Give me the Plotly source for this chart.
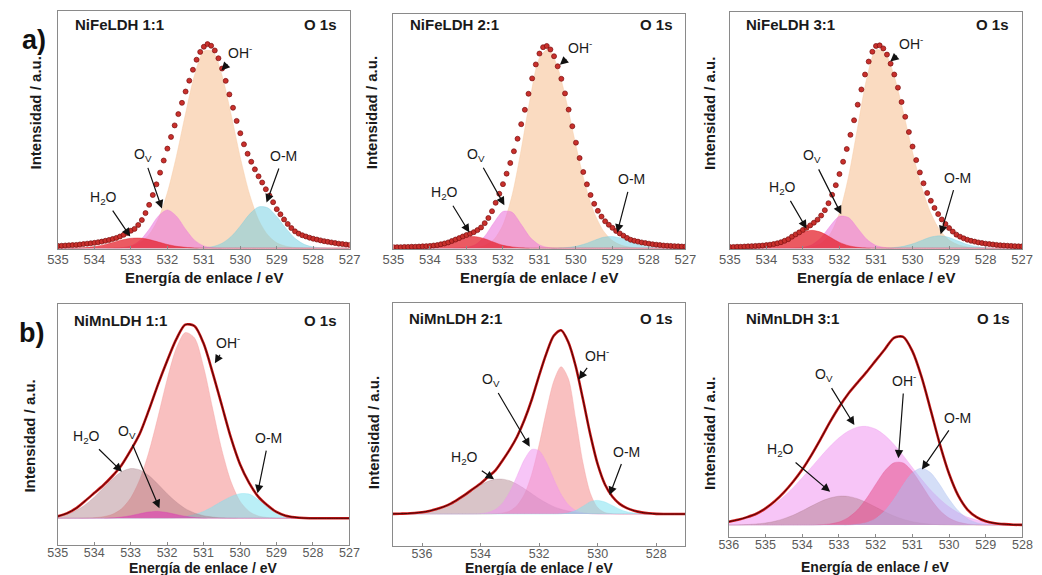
import plotly.graph_objects as go

# ====================== DATA ======================
# binding energies (eV)
E_FINE = [535.0, 534.9, 534.8, 534.7, 534.6, 534.5, 534.4, 534.3, 534.2, 534.1,
          534.0, 533.9, 533.8, 533.7, 533.6, 533.5, 533.4, 533.3, 533.2, 533.1,
          533.0, 532.9, 532.8, 532.7, 532.6, 532.5, 532.4, 532.3, 532.2, 532.1,
          532.0, 531.9, 531.8, 531.7, 531.6, 531.5, 531.4, 531.3, 531.2, 531.1,
          531.0, 530.9, 530.8, 530.7, 530.6, 530.5, 530.4, 530.3, 530.2, 530.1,
          530.0, 529.9, 529.8, 529.7, 529.6, 529.5, 529.4, 529.3, 529.2, 529.1,
          529.0, 528.9, 528.8, 528.7, 528.6, 528.5, 528.4, 528.3, 528.2, 528.1,
          528.0, 527.9, 527.8, 527.7, 527.6, 527.5, 527.4, 527.3, 527.2, 527.1,
          527.0]
E_535 = [535.0, 534.75, 534.5, 534.25, 534.0, 533.75, 533.5, 533.25, 533.0, 532.75,
         532.5, 532.25, 532.0, 531.75, 531.5, 531.25, 531.0, 530.75, 530.5, 530.25,
         530.0, 529.75, 529.5, 529.25, 529.0, 528.75, 528.5, 528.25, 528.0, 527.75,
         527.5, 527.25, 527.0]
E_537 = [537.0, 536.75, 536.5, 536.25, 536.0, 535.75, 535.5, 535.25,
         535.0, 534.75, 534.5, 534.25, 534.0, 533.75, 533.5, 533.25, 533.0, 532.75,
         532.5, 532.25, 532.0, 531.75, 531.5, 531.25, 531.0, 530.75, 530.5, 530.25,
         530.0, 529.75, 529.5, 529.25, 529.0, 528.75, 528.5, 528.25, 528.0, 527.75,
         527.5, 527.25, 527.0]
E_536 = [536.0, 535.75, 535.5, 535.25, 535.0, 534.75, 534.5, 534.25, 534.0, 533.75,
         533.5, 533.25, 533.0, 532.75, 532.5, 532.25, 532.0, 531.75, 531.5, 531.25,
         531.0, 530.75, 530.5, 530.25, 530.0, 529.75, 529.5, 529.25, 529.0, 528.75,
         528.5, 528.25, 528.0]

TICKS_535 = [535, 534, 533, 532, 531, 530, 529, 528, 527]
TICKS_537 = [536, 534, 532, 530, 528]
TICKS_536 = [536, 535, 534, 533, 532, 531, 530, 529, 528]

PANEL_TITLES = ["NiFeLDH 1:1", "NiFeLDH 2:1", "NiFeLDH 3:1",
                "NiMnLDH 1:1", "NiMnLDH 2:1", "NiMnLDH 3:1"]

# ---- NiFeLDH 1:1 ----
fe11_markers = [0.011, 0.012, 0.013, 0.014, 0.015, 0.016, 0.018, 0.020, 0.022, 0.024,
                0.026, 0.029, 0.032, 0.036, 0.040, 0.045, 0.050, 0.057, 0.065, 0.074,
                0.085, 0.094, 0.113, 0.137, 0.171, 0.211, 0.259, 0.311, 0.368, 0.427,
                0.485, 0.542, 0.598, 0.653, 0.708, 0.763, 0.816, 0.869, 0.918, 0.956,
                0.981, 0.994, 0.986, 0.963, 0.925, 0.875, 0.815, 0.749, 0.684, 0.620,
                0.560, 0.506, 0.460, 0.421, 0.384, 0.350, 0.320, 0.287, 0.256, 0.224,
                0.190, 0.165, 0.140, 0.118, 0.098, 0.082, 0.071, 0.063, 0.057, 0.051,
                0.046, 0.042, 0.038, 0.034, 0.031, 0.028, 0.025, 0.022, 0.020, 0.018,
                0.016]
fe11_h2o = [0, 0, 0.001, 0.003, 0.008, 0.016, 0.028, 0.040, 0.048, 0.049, 0.042, 0.030,
            0.018, 0.009, 0.004, 0.001, 0, 0, 0, 0, 0, 0, 0, 0, 0, 0, 0, 0, 0, 0, 0, 0, 0]
fe11_ov = [0, 0, 0, 0, 0, 0, 0, 0.002, 0.011, 0.038, 0.092, 0.156, 0.186, 0.156, 0.092,
           0.038, 0.011, 0.002, 0, 0, 0, 0, 0, 0, 0, 0, 0, 0, 0, 0, 0, 0, 0]
fe11_oh = [0, 0, 0, 0, 0, 0, 0.001, 0.003, 0.010, 0.027, 0.067, 0.143, 0.271, 0.450, 0.657,
           0.847, 0.960, 0.957, 0.841, 0.650, 0.442, 0.265, 0.139, 0.065, 0.026, 0.010,
           0.003, 0.001, 0, 0, 0, 0, 0]
fe11_om = [0, 0, 0, 0, 0, 0, 0, 0, 0, 0, 0, 0, 0, 0, 0, 0, 0.002, 0.008, 0.024, 0.057,
           0.108, 0.165, 0.201, 0.197, 0.154, 0.097, 0.048, 0.019, 0.006, 0.002, 0, 0, 0]

# ---- NiFeLDH 2:1 ----
fe21_markers = [0.005, 0.005, 0.005, 0.006, 0.006, 0.007, 0.007, 0.008, 0.009, 0.010,
                0.011, 0.013, 0.015, 0.019, 0.023, 0.028, 0.035, 0.042, 0.049, 0.057,
                0.064, 0.070, 0.078, 0.088, 0.101, 0.122, 0.147, 0.180, 0.221, 0.265,
                0.312, 0.363, 0.415, 0.472, 0.533, 0.604, 0.674, 0.752, 0.827, 0.895,
                0.948, 0.979, 0.985, 0.968, 0.935, 0.886, 0.825, 0.754, 0.675, 0.594,
                0.514, 0.439, 0.371, 0.311, 0.259, 0.216, 0.182, 0.154, 0.131, 0.114,
                0.099, 0.084, 0.072, 0.061, 0.050, 0.041, 0.036, 0.032, 0.028, 0.025,
                0.022, 0.019, 0.017, 0.015, 0.013, 0.012, 0.011, 0.010, 0.009, 0.008,
                0.008]
fe21_h2o = [0, 0, 0, 0.001, 0.004, 0.010, 0.023, 0.040, 0.054, 0.056, 0.046, 0.029, 0.014,
            0.006, 0.002, 0, 0, 0, 0, 0, 0, 0, 0, 0, 0, 0, 0, 0, 0, 0, 0, 0, 0]
fe21_ov = [0, 0, 0, 0, 0, 0, 0, 0.001, 0.004, 0.018, 0.058, 0.124, 0.179, 0.175, 0.116,
           0.052, 0.016, 0.003, 0, 0, 0, 0, 0, 0, 0, 0, 0, 0, 0, 0, 0, 0, 0]
fe21_oh = [0, 0, 0, 0, 0, 0, 0, 0, 0.001, 0.003, 0.013, 0.042, 0.114, 0.258, 0.481, 0.734,
           0.927, 0.970, 0.880, 0.706, 0.500, 0.313, 0.173, 0.085, 0.037, 0.014, 0.005,
           0.001, 0, 0, 0, 0, 0]
fe21_om = [0, 0, 0, 0, 0, 0, 0, 0, 0, 0, 0, 0, 0, 0, 0, 0, 0, 0, 0.001, 0.003, 0.009,
           0.021, 0.038, 0.053, 0.057, 0.048, 0.031, 0.016, 0.006, 0.002, 0, 0, 0]

# ---- NiFeLDH 3:1 ----
fe31_markers = [0.006, 0.006, 0.007, 0.007, 0.008, 0.009, 0.010, 0.011, 0.012, 0.013,
                0.015, 0.017, 0.020, 0.024, 0.029, 0.036, 0.044, 0.056, 0.067, 0.077,
                0.089, 0.099, 0.111, 0.124, 0.139, 0.159, 0.185, 0.219, 0.260, 0.307,
                0.361, 0.421, 0.483, 0.552, 0.623, 0.699, 0.773, 0.846, 0.909, 0.957,
                0.985, 0.988, 0.973, 0.943, 0.899, 0.846, 0.782, 0.712, 0.640, 0.566,
                0.495, 0.429, 0.369, 0.316, 0.269, 0.231, 0.196, 0.166, 0.140, 0.118,
                0.098, 0.081, 0.066, 0.056, 0.048, 0.041, 0.036, 0.032, 0.028, 0.025,
                0.022, 0.020, 0.018, 0.016, 0.014, 0.013, 0.012, 0.011, 0.010, 0.009,
                0.009]
fe31_h2o = [0, 0, 0, 0.001, 0.004, 0.012, 0.028, 0.053, 0.077, 0.087, 0.077, 0.053, 0.028,
            0.012, 0.004, 0.001, 0, 0, 0, 0, 0, 0, 0, 0, 0, 0, 0, 0, 0, 0, 0, 0, 0]
fe31_ov = [0, 0, 0, 0, 0, 0, 0, 0.001, 0.004, 0.017, 0.052, 0.109, 0.155, 0.149, 0.097,
           0.043, 0.013, 0.003, 0, 0, 0, 0, 0, 0, 0, 0, 0, 0, 0, 0, 0, 0, 0]
fe31_oh = [0, 0, 0, 0, 0, 0, 0, 0, 0.002, 0.007, 0.024, 0.070, 0.172, 0.350, 0.592, 0.830,
           0.966, 0.951, 0.837, 0.661, 0.468, 0.298, 0.171, 0.087, 0.040, 0.017, 0.006,
           0.002, 0, 0, 0, 0, 0]
fe31_om = [0, 0, 0, 0, 0, 0, 0, 0, 0, 0, 0, 0, 0, 0, 0, 0, 0, 0, 0.003, 0.009, 0.021,
           0.038, 0.054, 0.060, 0.052, 0.035, 0.018, 0.008, 0.002, 0, 0, 0, 0]

# ---- NiMnLDH 1:1 ----
mn11_env = [0.010, 0.025, 0.050, 0.088, 0.128, 0.168, 0.215, 0.270, 0.345, 0.430, 0.550,
            0.680, 0.800, 0.910, 0.985, 0.978, 0.890, 0.740, 0.575, 0.410, 0.275, 0.180,
            0.110, 0.066, 0.032, 0.013, 0.005, 0.001, 0, 0, 0, 0, 0]
mn11_h2o = [0.010, 0.020, 0.039, 0.068, 0.107, 0.154, 0.200, 0.237, 0.253, 0.246, 0.217,
            0.173, 0.125, 0.083, 0.049, 0.027, 0.013, 0.006, 0.002, 0.001, 0, 0, 0, 0, 0,
            0, 0, 0, 0, 0, 0, 0, 0]
mn11_ov = [0, 0, 0, 0, 0, 0, 0.002, 0.006, 0.013, 0.023, 0.032, 0.035, 0.029, 0.019, 0.010,
           0.004, 0.001, 0, 0, 0, 0, 0, 0, 0, 0, 0, 0, 0, 0, 0, 0, 0, 0]
mn11_oh = [0, 0, 0, 0.001, 0.003, 0.008, 0.020, 0.048, 0.103, 0.197, 0.337, 0.515, 0.705,
           0.863, 0.945, 0.918, 0.771, 0.558, 0.349, 0.188, 0.087, 0.035, 0.012, 0.004,
           0.001, 0, 0, 0, 0, 0, 0, 0, 0]
mn11_om = [0, 0, 0, 0, 0, 0, 0, 0, 0, 0, 0, 0, 0, 0.004, 0.009, 0.019, 0.035, 0.059, 0.086,
           0.110, 0.125, 0.123, 0.095, 0.057, 0.027, 0.010, 0.003, 0, 0, 0, 0, 0, 0]

# ---- NiMnLDH 2:1 ----
mn21_env = [0.001, 0.002, 0.003, 0.006, 0.010, 0.017, 0.027, 0.040, 0.058, 0.082, 0.108,
            0.137, 0.165, 0.200, 0.235, 0.290, 0.350, 0.420, 0.510, 0.620, 0.750, 0.870,
            0.965, 0.995, 0.930, 0.800, 0.620, 0.430, 0.270, 0.160, 0.095, 0.055, 0.032,
            0.018, 0.009, 0.004, 0.001, 0, 0, 0, 0]
mn21_h2o = [0, 0.001, 0.002, 0.004, 0.008, 0.014, 0.023, 0.037, 0.055, 0.078, 0.104, 0.132,
            0.157, 0.177, 0.188, 0.189, 0.180, 0.161, 0.137, 0.110, 0.083, 0.060, 0.040,
            0.026, 0.016, 0.009, 0.005, 0.002, 0.001, 0, 0, 0, 0, 0, 0, 0, 0, 0, 0, 0, 0]
mn21_ov = [0, 0, 0, 0, 0, 0, 0, 0, 0, 0, 0, 0, 0.002, 0.008, 0.024, 0.059, 0.121, 0.208,
           0.296, 0.350, 0.343, 0.280, 0.190, 0.107, 0.050, 0.019, 0.006, 0.002, 0, 0, 0,
           0, 0, 0, 0, 0, 0, 0, 0, 0, 0]
mn21_oh = [0, 0, 0, 0, 0, 0, 0, 0, 0, 0, 0, 0, 0, 0, 0.002, 0.006, 0.017, 0.047, 0.108,
           0.217, 0.375, 0.559, 0.719, 0.798, 0.733, 0.515, 0.276, 0.113, 0.035, 0.008,
           0.002, 0, 0, 0, 0, 0, 0, 0, 0, 0, 0]
mn21_om = [0, 0, 0, 0, 0, 0, 0, 0, 0, 0, 0, 0, 0, 0, 0, 0, 0, 0, 0, 0, 0, 0, 0, 0.001,
           0.006, 0.019, 0.042, 0.067, 0.074, 0.065, 0.046, 0.026, 0.012, 0.005, 0.001, 0,
           0, 0, 0, 0, 0]

# ---- NiMnLDH 3:1 ----
mn31_env = [0.018, 0.028, 0.042, 0.060, 0.088, 0.125, 0.172, 0.228, 0.292, 0.368, 0.452,
            0.540, 0.620, 0.690, 0.748, 0.805, 0.865, 0.925, 0.985, 0.990, 0.915, 0.780,
            0.605, 0.425, 0.270, 0.155, 0.082, 0.042, 0.020, 0.010, 0.005, 0.002, 0.001]
mn31_ov = [0.016, 0.025, 0.038, 0.057, 0.081, 0.112, 0.151, 0.197, 0.249, 0.304, 0.360,
           0.413, 0.459, 0.494, 0.515, 0.519, 0.505, 0.472, 0.424, 0.366, 0.303, 0.241,
           0.184, 0.136, 0.096, 0.065, 0.042, 0.027, 0.016, 0.009, 0.005, 0.003, 0.001]
mn31_h2o = [0.001, 0.001, 0.003, 0.006, 0.011, 0.020, 0.034, 0.052, 0.075, 0.100, 0.124,
            0.142, 0.152, 0.151, 0.139, 0.119, 0.095, 0.070, 0.048, 0.031, 0.018, 0.010,
            0.005, 0.002, 0.001, 0, 0, 0, 0, 0, 0, 0, 0]
mn31_oh = [0, 0, 0, 0, 0, 0, 0, 0, 0, 0, 0.002, 0.006, 0.016, 0.039, 0.079, 0.140, 0.214,
           0.285, 0.328, 0.327, 0.282, 0.211, 0.137, 0.077, 0.037, 0.016, 0.006, 0.002, 0,
           0, 0, 0, 0]
mn31_om = [0, 0, 0, 0, 0, 0, 0, 0, 0, 0, 0, 0, 0, 0, 0.004, 0.013, 0.034, 0.075, 0.137,
           0.212, 0.275, 0.300, 0.275, 0.212, 0.137, 0.075, 0.034, 0.013, 0.004, 0.001, 0,
           0, 0]

# ====================== STYLE / LAYOUT ======================
W, H = 1042, 575
FONT = "Liberation Sans, Arial, sans-serif"
FRAME = "#8a8a8a"


def fx(px):
    return px / W


def fy(py):
    return 1 - py / H


# frame boxes in pixels: left, right, top, bottom
FRAMES = [(48.0, 346.0, 10.7, 249.0), (390.7, 689.0, 14.0, 249.0), (734.3, 1033.0, 11.7, 249.0),
          (47.7, 345.7, 304.0, 545.0), (390.0, 689.0, 303.3, 546.0), (733.3, 1033.3, 304.0, 536.7)]
XRANGES = [[535, 527], [535, 527], [535, 527], [535, 527], [537, 527], [536, 528]]
YRANGES = [[-0.004, (249 - 10.7) / 206], [-0.004, (249 - 14.0) / 206], [-0.004, (249 - 11.7) / 206],
           [-0.136, 1.090], [-0.173, 1.141], [-0.061, 1.163]]
TICKS = [TICKS_535, TICKS_535, TICKS_535, TICKS_535, TICKS_537, TICKS_536]
TICK_SIZE = [13, 13, 13, 12.5, 12.5, 12.5]
TICK_STANDOFF = [-2, -2, -2, -4, -4, -4]

# row a colours
C_OH_A = "rgba(247,200,160,0.65)"
C_OM_A = "rgba(110,205,225,0.5)"
C_OV_A = "rgba(235,120,220,0.6)"
C_H2O_A = "rgba(228,35,45,0.75)"
# row b colours
C_OH_B = "rgba(245,150,150,0.6)"
C_H2O_B = "rgba(165,115,125,0.42)"
C_OV_B = "rgba(240,150,240,0.55)"
C_OM_B = "rgba(130,225,240,0.55)"

fig = go.Figure()


def axn(i):
    return ("x", "y") if i == 0 else ("x%d" % (i + 1), "y%d" % (i + 1))


def comp(i, x, y, color, lw=0.6):
    xa, ya = axn(i)
    fig.add_trace(go.Scatter(x=x, y=y, mode="lines", fill="tozeroy", fillcolor=color,
                             line=dict(color=color, width=lw, shape="spline", smoothing=0.8),
                             xaxis=xa, yaxis=ya, hoverinfo="skip"))


rowa = [(fe11_markers, fe11_h2o, fe11_ov, fe11_oh, fe11_om),
        (fe21_markers, fe21_h2o, fe21_ov, fe21_oh, fe21_om),
        (fe31_markers, fe31_h2o, fe31_ov, fe31_oh, fe31_om)]
for i, (mk, h2o, ov, oh, om) in enumerate(rowa):
    comp(i, E_535, oh, C_OH_A)
    comp(i, E_535, om, C_OM_A)
    comp(i, E_535, ov, C_OV_A)
    comp(i, E_535, h2o, C_H2O_A)
    xa, ya = axn(i)
    fig.add_trace(go.Scatter(x=E_FINE, y=mk, mode="markers",
                             marker=dict(size=5, color="#c8302c",
                                         line=dict(color="#7a0e0e", width=0.7)),
                             xaxis=xa, yaxis=ya, hoverinfo="skip"))

rowb = [(3, E_535, mn11_env, [(mn11_oh, C_OH_B), (mn11_om, C_OM_B), (mn11_h2o, C_H2O_B),
                              (mn11_ov, "rgba(220,60,180,0.6)")]),
        (4, E_537, mn21_env, [(mn21_oh, C_OH_B), (mn21_h2o, C_H2O_B), (mn21_ov, C_OV_B),
                              (mn21_om, C_OM_B)]),
        (5, E_536, mn31_env, [(mn31_ov, C_OV_B), (mn31_h2o, C_H2O_B),
                              (mn31_oh, "rgba(230,80,140,0.55)"),
                              (mn31_om, "rgba(170,190,240,0.5)")])]
for i, x, env, comps in rowb:
    for y, c in comps:
        comp(i, x, y, c)
    xa, ya = axn(i)
    fig.add_trace(go.Scatter(x=x, y=env, mode="lines",
                             line=dict(color="#d01818", width=2.6, shape="spline", smoothing=0.8),
                             xaxis=xa, yaxis=ya, hoverinfo="skip"))
    fig.add_trace(go.Scatter(x=x, y=env, mode="lines",
                             line=dict(color="#300505", width=0.9, shape="spline", smoothing=0.8),
                             xaxis=xa, yaxis=ya, hoverinfo="skip"))

layout = dict(width=W, height=H, margin=dict(l=0, r=0, t=0, b=0),
              paper_bgcolor="white", plot_bgcolor="white", showlegend=False,
              font=dict(family=FONT))
for i in range(6):
    l, r, t, b = FRAMES[i]
    xk = "xaxis" if i == 0 else "xaxis%d" % (i + 1)
    yk = "yaxis" if i == 0 else "yaxis%d" % (i + 1)
    xa, ya = axn(i)
    layout[xk] = dict(domain=[fx(l), fx(r)], range=XRANGES[i], anchor=ya,
                      tickvals=TICKS[i], ticks="inside", ticklen=3, tickcolor=FRAME,
                      ticklabelstandoff=TICK_STANDOFF[i],
                      tickfont=dict(family=FONT, size=TICK_SIZE[i], color="#5a5a5a"),
                      showline=True, mirror=True, linecolor=FRAME, linewidth=1.2,
                      showgrid=False, zeroline=False)
    layout[yk] = dict(domain=[fy(b), fy(t)], range=YRANGES[i], anchor=xa,
                      showticklabels=False, ticks="", showline=True, mirror=True,
                      linecolor=FRAME, linewidth=1.2, showgrid=False, zeroline=False)

ann = []
TITLE_Y = [25, 24, 24, 320, 318, 318]
XT_Y = [277, 277, 277, 567.5, 567.5, 566.5]
XT_SIZE = [15, 15, 15, 14, 14, 14]
YT_X = [25, 368, 713, 18, 370, 713]
YT_Y = [113, 113, 113, 436, 433, 433]
for i in range(6):
    l, r, t, b = FRAMES[i]
    ann.append(dict(x=fx(l + 15), y=fy(TITLE_Y[i]), xref="paper", yref="paper",
                    text="<b>%s</b>" % PANEL_TITLES[i], showarrow=False, xanchor="left",
                    yanchor="middle", font=dict(family=FONT, size=15, color="#1a1a1a")))
    ann.append(dict(x=fx(r - 11), y=fy(TITLE_Y[i]), xref="paper", yref="paper",
                    text="<b>O 1s</b>", showarrow=False, xanchor="right", yanchor="middle",
                    font=dict(family=FONT, size=15, color="#1a1a1a")))
    ann.append(dict(x=fx((l + r) / 2), y=fy(XT_Y[i]), xref="paper", yref="paper",
                    text="<b>Energía de enlace / eV</b>", showarrow=False, xanchor="center",
                    yanchor="middle", font=dict(family=FONT, size=XT_SIZE[i], color="#1a1a1a")))
    ann.append(dict(x=fx(YT_X[i]), y=fy(YT_Y[i]), xref="paper", yref="paper",
                    text="<b>Intensidad / a.u.</b>", showarrow=False, textangle=-90,
                    xanchor="center", yanchor="middle",
                    font=dict(family=FONT, size=15, color="#1a1a1a")))

ann.append(dict(x=fx(23), y=fy(40), xref="paper", yref="paper", text="<b>a)</b>",
                showarrow=False, xanchor="center", yanchor="middle",
                font=dict(family=FONT, size=27, color="#111111")))
ann.append(dict(x=fx(21), y=fy(333), xref="paper", yref="paper", text="<b>b)</b>",
                showarrow=False, xanchor="center", yanchor="middle",
                font=dict(family=FONT, size=27, color="#111111")))

OH = "OH<sup>-</sup>"
OV = "O<sub>V</sub>"
H2 = "H<sub>2</sub>O"
OM = "O-M"
# label position and arrow tip (energy, intensity) per panel
LABELS = [
    [(OH, 530.02, 0.958, 530.52, 0.866), (OM, 528.82, 0.448, 529.28, 0.222),
     (OV, 532.66, 0.456, 532.15, 0.193), (H2, 533.74, 0.246, 533.02, 0.057)],
    [(OH, 529.88, 0.982, 530.44, 0.893), (OM, 528.49, 0.335, 528.87, 0.076),
     (OV, 532.74, 0.456, 531.96, 0.209), (H2, 533.59, 0.270, 532.92, 0.076)],
    [(OH, 530.03, 0.998, 530.61, 0.909), (OM, 528.78, 0.343, 529.23, 0.068),
     (OV, 532.75, 0.448, 531.95, 0.165), (H2, 533.55, 0.294, 532.90, 0.095)],
    [(OH, 530.33, 0.898, 530.69, 0.788), (OM, 529.21, 0.407, 529.52, 0.127),
     (OV, 533.10, 0.441, 532.21, 0.051), (H2, 534.22, 0.415, 533.24, 0.237)],
    [(OH, 530.03, 0.861, 530.65, 0.729), (OM, 529.03, 0.338, 529.59, 0.103),
     (OV, 533.66, 0.726, 532.32, 0.365), (H2, 534.55, 0.301, 533.54, 0.188)],
    [(OV, 533.42, 0.789, 532.58, 0.526), (OH, 531.22, 0.763, 531.38, 0.351),
     (OM, 529.78, 0.561, 530.74, 0.293), (H2, 534.58, 0.395, 533.24, 0.175)],
]
for i, labs in enumerate(LABELS):
    xa, ya = axn(i)
    for txt, tx, ty, px_, py_ in labs:
        ann.append(dict(x=px_, y=py_, ax=tx, ay=ty, xref=xa, yref=ya, axref=xa, ayref=ya,
                        text=txt, showarrow=True, arrowhead=2, arrowsize=1.4, arrowwidth=1.2,
                        arrowcolor="#111111", standoff=0, startstandoff=3,
                        font=dict(family=FONT, size=14, color="#1a1a1a")))

layout["annotations"] = ann
fig.update_layout(**layout)
fig.write_html("out.html")
